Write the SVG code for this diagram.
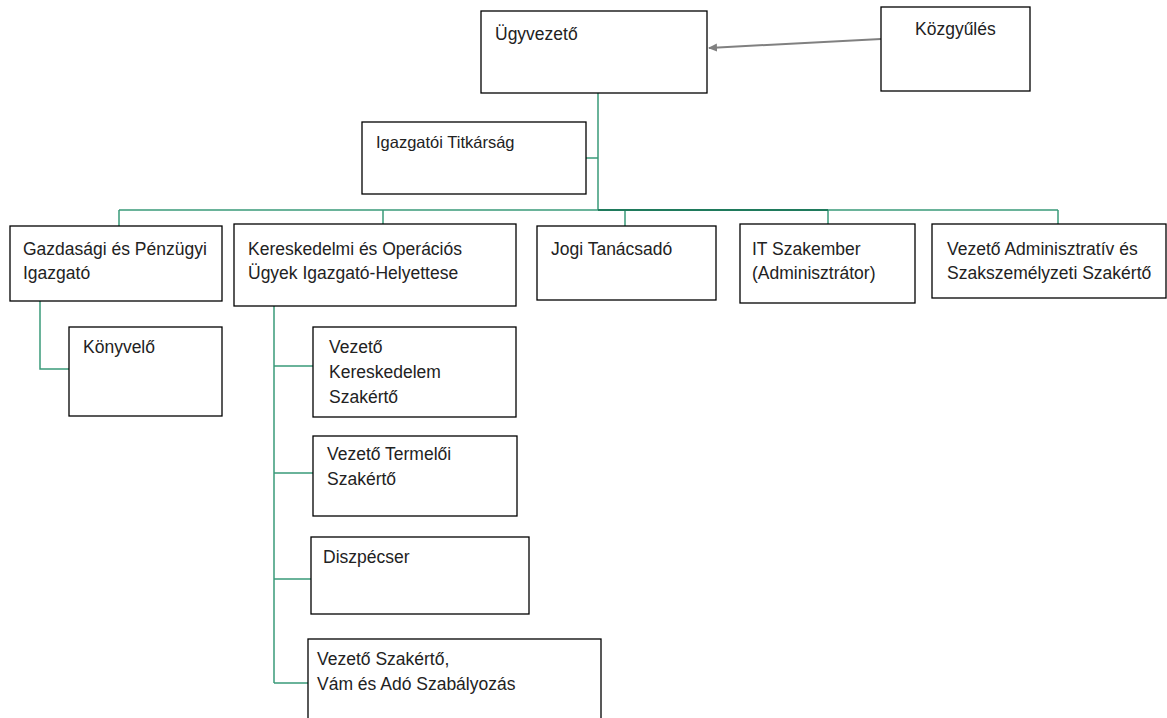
<svg xmlns="http://www.w3.org/2000/svg" width="1167" height="718" viewBox="0 0 1167 718">
<defs>
<style>
.box{fill:#fff;stroke:#000;stroke-width:1.3}
.t{font-family:"Liberation Sans",Arial,sans-serif;font-size:17.5px;fill:#222}
.ts{font-family:"Liberation Sans",Arial,sans-serif;font-size:16.5px;fill:#222}
.c{fill:none;stroke:#3a9a7a;stroke-width:1.5}
.cd{fill:none;stroke:#1f7a5c;stroke-width:2.2}
.arr{fill:none;stroke:#808080;stroke-width:2}
</style>
<marker id="ah" markerWidth="10" markerHeight="10" refX="8" refY="5" orient="auto" markerUnits="userSpaceOnUse">
<path d="M0,1 L9,5 L0,9 Z" fill="#808080"/>
</marker>
</defs>
<rect width="1167" height="718" fill="#fff"/>
<g id="connectors">
<path class="c" d="M598 93 V210 M586 158 H598 M119 210 H1058 M119 210 V226 M383 210 V224 M625 210 V226 M828 210 V224 M1058 210 V224"/>
<path class="cd" d="M598 210 H828"/>
<path class="c" d="M40 301 V369 H69"/>
<path class="c" d="M274 306 V683 M274 366 H313 M274 473 H313 M274 579 H311 M274 683 H308"/>
<path class="arr" d="M881 39 L709 48" marker-end="url(#ah)"/>
</g>
<g id="ugyvezeto"><rect class="box" x="481" y="11" width="226" height="82"/><text class="t" x="495" y="40">Ügyvezető</text></g>
<g id="kozgyules"><rect class="box" x="881" y="7" width="149" height="84"/><text class="t" x="915" y="35">Közgyűlés</text></g>
<g id="titkarsag"><rect class="box" x="362" y="122" width="224" height="72"/><text class="ts" x="376" y="148">Igazgatói Titkárság</text></g>
<g id="gazdasagi"><rect class="box" x="10" y="226" width="212" height="75"/><text class="t" x="23" y="255">Gazdasági és Pénzügyi</text><text class="t" x="23" y="279">Igazgató</text></g>
<g id="kereskedelmi"><rect class="box" x="234" y="224" width="282" height="82"/><text class="t" x="248" y="255">Kereskedelmi és Operációs</text><text class="t" x="248" y="279">Ügyek Igazgató-Helyettese</text></g>
<g id="jogi"><rect class="box" x="537" y="226" width="179" height="74"/><text class="t" x="551" y="255">Jogi Tanácsadó</text></g>
<g id="it"><rect class="box" x="740" y="224" width="175" height="79"/><text class="t" x="752" y="255">IT Szakember</text><text class="t" x="752" y="279">(Adminisztrátor)</text></g>
<g id="adminisztrativ"><rect class="box" x="932" y="224" width="234" height="74"/><text class="t" x="947" y="255">Vezető Adminisztratív és</text><text class="t" x="947" y="279">Szakszemélyzeti Szakértő</text></g>
<g id="konyvelo"><rect class="box" x="69" y="327" width="153" height="89"/><text class="t" x="83" y="353">Könyvelő</text></g>
<g id="kereskedelem-szakerto"><rect class="box" x="313" y="327" width="203" height="90"/><text class="t" x="329" y="353">Vezető</text><text class="t" x="329" y="378">Kereskedelem</text><text class="t" x="329" y="403">Szakértő</text></g>
<g id="termeloi"><rect class="box" x="313" y="436" width="204" height="80"/><text class="t" x="327" y="460">Vezető Termelői</text><text class="t" x="327" y="485">Szakértő</text></g>
<g id="diszpecser"><rect class="box" x="311" y="537" width="218" height="77"/><text class="t" x="323" y="563">Diszpécser</text></g>
<g id="vam"><rect class="box" x="308" y="639" width="293" height="85"/><text class="t" x="317" y="665">Vezető Szakértő,</text><text class="t" x="317" y="690">Vám és Adó Szabályozás</text></g>
</svg>
